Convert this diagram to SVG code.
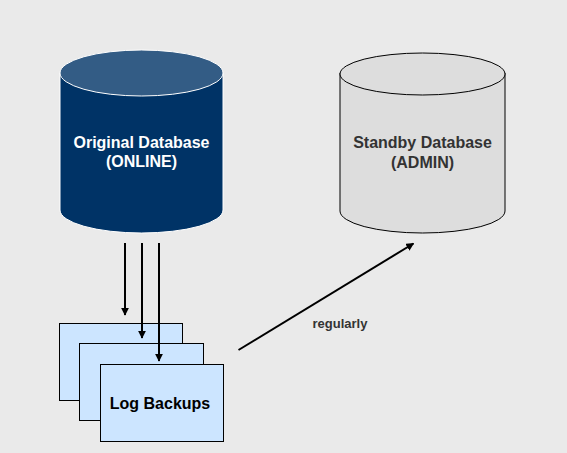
<svg xmlns="http://www.w3.org/2000/svg" width="567" height="453" viewBox="0 0 567 453">
<style>
.lbl{font-family:"Liberation Sans",Arial,sans-serif;font-weight:bold;text-anchor:middle}
.box{fill:#CCE5FF;stroke:#000;stroke-width:1}
.conn{stroke:#000;stroke-width:2;fill:none}
</style>
<defs>
<marker id="ah" viewBox="0 0 10 10" refX="9" refY="5" markerWidth="4" markerHeight="4" orient="auto" markerUnits="strokeWidth">
<path d="M0,0 L10,5 L0,10 z" fill="#000"/>
</marker>
</defs>
<rect x="0" y="0" width="567" height="453" fill="#EAEAEA"/>
<g id="original-db">
<path d="M60,73 L60,210 A81.5,23 0 0 0 223,210 L223,73 Z" fill="#003366" stroke="#fff" stroke-width="1"/>
<ellipse cx="141.5" cy="73" rx="81.5" ry="23" fill="#335C85" stroke="#fff" stroke-width="1"/>
<text class="lbl" x="141.5" y="148" font-size="16" fill="#fff">Original Database</text>
<text class="lbl" x="141.5" y="167" font-size="16" fill="#fff">(ONLINE)</text>
</g>
<g id="standby-db">
<path d="M340,73 L340,211 A82.5,22 0 0 0 505,211 L505,73 Z" fill="#DDDDDD" stroke="#000" stroke-width="1"/>
<ellipse cx="422.5" cy="74" rx="82.5" ry="21" fill="#DDDDDD" stroke="#000" stroke-width="1"/>
<text class="lbl" x="422.5" y="148" font-size="16" fill="#333">Standby Database</text>
<text class="lbl" x="422.5" y="168" font-size="16" fill="#333">(ADMIN)</text>
</g>
<g id="log-backups">
<rect class="box" x="59.5" y="323.5" width="123" height="77"/>
<rect class="box" x="79.5" y="343.5" width="124" height="77"/>
<rect class="box" x="100.5" y="364.5" width="123" height="77"/>
<text class="lbl" x="160" y="409" font-size="16" fill="#000">Log Backups</text>
</g>
<g id="connectors">
<line class="conn" x1="125" y1="243" x2="125" y2="315" marker-end="url(#ah)"/>
<line class="conn" x1="142" y1="243" x2="142" y2="338" marker-end="url(#ah)"/>
<line class="conn" x1="159" y1="243" x2="159" y2="361" marker-end="url(#ah)"/>
<line class="conn" x1="238.5" y1="350" x2="413.5" y2="243.5" marker-end="url(#ah)"/>
<text class="lbl" x="340" y="328" font-size="13" fill="#333">regularly</text>
</g>
</svg>
